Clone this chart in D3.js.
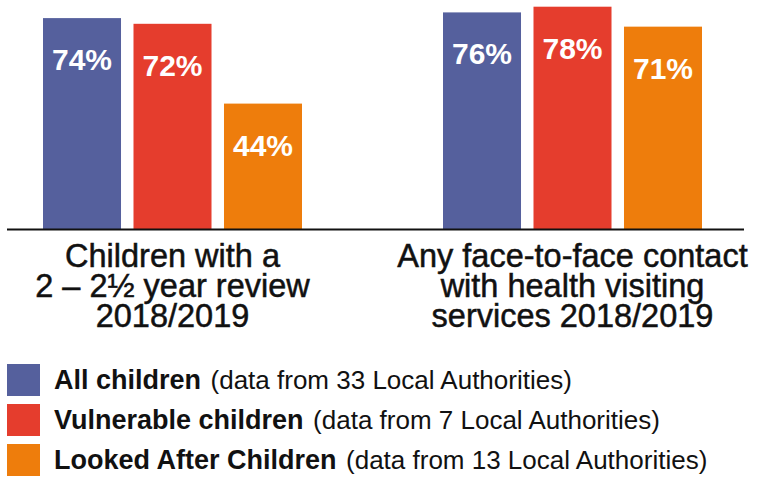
<!DOCTYPE html>
<html>
<head>
<meta charset="utf-8">
<script src="https://cdn.jsdelivr.net/npm/d3@7"></script>
<style>
  body { margin: 0; background: #fff; }
  text { font-family: "Liberation Sans", Helvetica, Arial, sans-serif; }
</style>
</head>
<body>
<script>
// Data
const categories = ["review", "contact"];
const categoryLabels = [
    ["Children with a", "2 \u2013 2\u00BD year review", "2018/2019"],
    ["Any face-to-face contact", "with health visiting", "services 2018/2019"]
];
const seriesNames = ["All children", "Vulnerable children", "Looked After Children"];
const seriesNotes = [
    "(data from 33 Local Authorities)",
    "(data from 7 Local Authorities)",
    "(data from 13 Local Authorities)"
];
const seriesColors = ["#55609d", "#e53d2d", "#ee7d0c"];
const reviewValues = [74, 72, 44];
const contactValues = [76, 78, 71];

const width = 760, height = 477;
const baseY = 229;

const svg = d3.select("body")
    .append("svg")
    .attr("width", width)
    .attr("height", height);

// Scales
const x0 = d3.scaleBand()
    .domain(categories)
    .range([43, 702])
    .paddingInner(0.3525);

const x1 = d3.scaleBand()
    .domain(seriesNames)
    .range([0, x0.bandwidth()])
    .paddingInner(0.138);

const y = d3.scaleLinear()
    .domain([0, 100])
    .range([baseY, baseY - 285]);

const color = d3.scaleOrdinal().domain(seriesNames).range(seriesColors);

const rows = [];
[reviewValues, contactValues].forEach((vals, i) => {
    vals.forEach((v, j) => rows.push({ cat: categories[i], series: seriesNames[j], value: v }));
});

// Bars
const bars = svg.append("g").selectAll("g")
    .data(rows)
    .join("g")
    .attr("transform", d => `translate(${x0(d.cat) + x1(d.series)},0)`);

bars.append("rect")
    .attr("x", 0)
    .attr("y", d => y(d.value))
    .attr("width", x1.bandwidth())
    .attr("height", d => y(0) - y(d.value))
    .attr("fill", d => color(d.series));

bars.append("text")
    .attr("x", x1.bandwidth() / 2)
    .attr("y", d => y(d.value) + 52)
    .attr("text-anchor", "middle")
    .attr("fill", "#fff")
    .attr("font-weight", "bold")
    .attr("font-size", 30)
    .text(d => d.value + "%");

// Baseline
svg.append("line")
    .attr("x1", 7).attr("x2", 744)
    .attr("y1", baseY + 0.5).attr("y2", baseY + 0.5)
    .attr("stroke", "#111")
    .attr("stroke-width", 2);

// Category labels
categories.forEach((c, i) => {
    const t = svg.append("text")
        .attr("text-anchor", "middle")
        .attr("font-size", 32.5)
        .attr("fill", "#111")
        .attr("stroke", "#111")
        .attr("stroke-width", 0.5);
    categoryLabels[i].forEach((line, k) => {
        t.append("tspan")
            .attr("x", x0(c) + x0.bandwidth() / 2)
            .attr("y", 267 + k * 30)
            .text(line);
    });
});

// Legend
const legend = svg.append("g").selectAll("g")
    .data(seriesNames)
    .join("g")
    .attr("transform", (d, i) => `translate(7,${364 + i * 40})`);

legend.append("rect")
    .attr("width", 33)
    .attr("height", 32)
    .attr("fill", d => color(d));

const lt = legend.append("text")
    .attr("x", 47)
    .attr("y", 24.5)
    .attr("fill", "#111");

lt.append("tspan")
    .attr("font-weight", "bold")
    .attr("font-size", 27)
    .text(d => d + " ");
lt.append("tspan")
    .attr("font-size", 26)
    .attr("dx", 2)
    .text((d, i) => seriesNotes[i]);
</script>
</body>
</html>
